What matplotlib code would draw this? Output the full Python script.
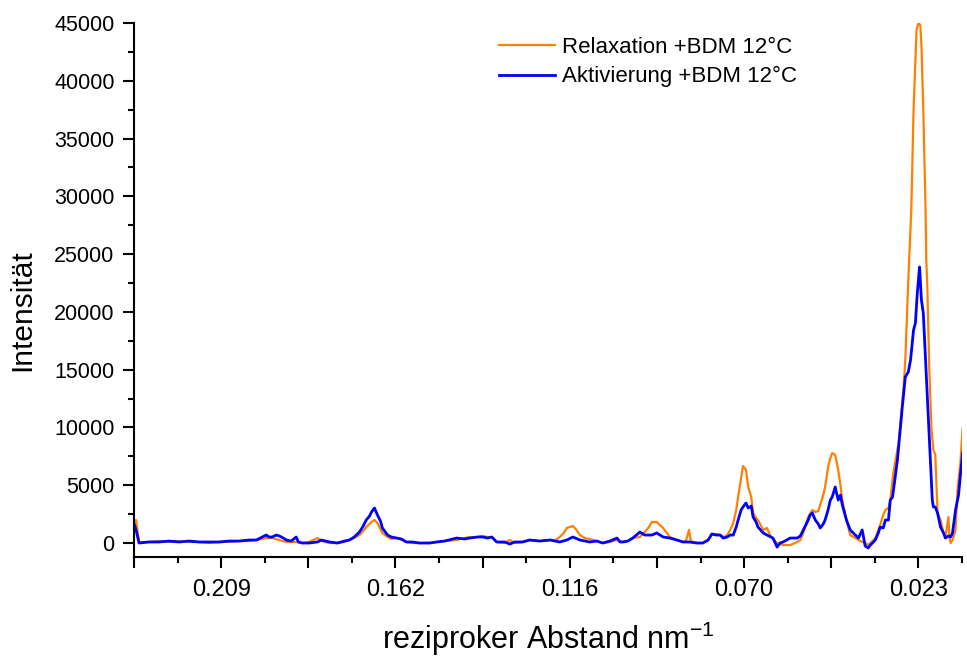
import matplotlib
matplotlib.use("Agg")
import matplotlib.pyplot as plt

plt.rcParams['font.family'] = ['Liberation Sans', 'DejaVu Sans']
plt.rcParams['mathtext.fontset'] = 'custom'
plt.rcParams['mathtext.rm'] = 'Liberation Sans'
plt.rcParams['mathtext.default'] = 'regular'

# ---- data (reciprocal spacing in nm^-1, intensity) ----
x_relax = [0.2325, 0.2323, 0.2317, 0.2309, 0.2282, 0.2256, 0.2229, 0.2202, 0.2176, 0.2149,
           0.2122, 0.2095, 0.2069, 0.2042, 0.2015, 0.1996, 0.1980, 0.1970, 0.1954, 0.1935,
           0.1916, 0.1890, 0.1874, 0.1855, 0.1833, 0.1823, 0.1801, 0.1780, 0.1761, 0.1748,
           0.1735, 0.1721, 0.1711, 0.1703, 0.1689, 0.1681, 0.1673, 0.1660, 0.1646, 0.1636,
           0.1622, 0.1609, 0.1596, 0.1580, 0.1561, 0.1534, 0.1515, 0.1494, 0.1462, 0.1441,
           0.1427, 0.1406, 0.1393, 0.1379, 0.1368, 0.1355, 0.1334, 0.1320, 0.1307, 0.1286,
           0.1267, 0.1240, 0.1213, 0.1197, 0.1187, 0.1176, 0.1168, 0.1152, 0.1144, 0.1133,
           0.1120, 0.1107, 0.1088, 0.1072, 0.1053, 0.1034, 0.1018, 0.1005, 0.0992, 0.0973,
           0.0960, 0.0949, 0.0941, 0.0928, 0.0920, 0.0911, 0.0901, 0.0893, 0.0874, 0.0858,
           0.0850, 0.0842, 0.0837, 0.0821, 0.0805, 0.0791, 0.0781, 0.0770, 0.0759, 0.0748,
           0.0740, 0.0732, 0.0724, 0.0716, 0.0711, 0.0703, 0.0698, 0.0690, 0.0684, 0.0676,
           0.0671, 0.0663, 0.0658, 0.0644, 0.0634, 0.0626, 0.0618, 0.0607, 0.0591, 0.0572,
           0.0553, 0.0545, 0.0537, 0.0524, 0.0513, 0.0505, 0.0497, 0.0492, 0.0484, 0.0479,
           0.0471, 0.0465, 0.0460, 0.0452, 0.0444, 0.0438, 0.0433, 0.0422, 0.0412, 0.0398,
           0.0385, 0.0372, 0.0364, 0.0358, 0.0345, 0.0332, 0.0324, 0.0318, 0.0310, 0.0305,
           0.0297, 0.0283, 0.0270, 0.0265, 0.0259, 0.0257, 0.0249, 0.0243, 0.0235, 0.0230,
           0.0225, 0.0222, 0.0217, 0.0211, 0.0209, 0.0206, 0.0201, 0.0195, 0.0190, 0.0185,
           0.0182, 0.0179, 0.0171, 0.0163, 0.0158, 0.0150, 0.0147, 0.0144, 0.0139, 0.0131,
           0.0126, 0.0118, 0.0112]
y_relax = [1990, 1820, 1990, 90, 90, 170, 90, 170, 90, 90,
           0, 90, 90, 170, 170, 260, 350, 430, 430, 260,
           90, 90, 0, 90, 430, 170, 0, 0, 90, 260,
           430, 690, 1040, 1380, 1820, 1990, 1730, 870, 520, 350,
           430, 260, 90, 0, 0, 0, 90, 170, 260, 430,
           520, 520, 610, 520, 520, 90, 0, 260, 0, 90,
           260, 170, 260, 260, 520, 870, 1300, 1470, 1210, 690,
           430, 350, 170, 0, 90, 260, 90, 170, 430, 520,
           950, 1380, 1820, 1820, 1560, 1300, 870, 520, 260, 90,
           170, 1130, 170, 0, 0, 260, 780, 780, 690, 520,
           690, 1130, 1730, 2860, 3980, 5630, 6660, 6320, 4850, 3980,
           2600, 2160, 1990, 1130, 1300, 690, 350, 0, -170, -170,
           90, 260, 870, 2250, 2860, 2680, 2770, 3290, 4150, 4850,
           6580, 7360, 7790, 7620, 6320, 5020, 3720, 1990, 690, 430,
           170, 0, -170, 0, 430, 1560, 2420, 2860, 3030, 3720,
           6060, 8650, 13240, 15840, 21030, 22760, 28820, 37470, 44400, 45000,
           44830, 43100, 37470, 28820, 24490, 21890, 14970, 9780, 8050, 7620,
           5000, 2600, 1990, 870, 520, 2250, 430, 0, 260, 1130,
           4500, 7000, 9950]

x_akt = [0.2325, 0.2323, 0.2317, 0.2309, 0.2282, 0.2256, 0.2229, 0.2202, 0.2176, 0.2149,
         0.2122, 0.2095, 0.2069, 0.2042, 0.2015, 0.1996, 0.1980, 0.1970, 0.1962, 0.1954,
         0.1943, 0.1935, 0.1924, 0.1916, 0.1903, 0.1890, 0.1884, 0.1874, 0.1855, 0.1833,
         0.1823, 0.1801, 0.1780, 0.1761, 0.1748, 0.1735, 0.1721, 0.1711, 0.1703, 0.1694,
         0.1689, 0.1681, 0.1673, 0.1665, 0.1660, 0.1646, 0.1636, 0.1622, 0.1609, 0.1596,
         0.1580, 0.1561, 0.1534, 0.1515, 0.1494, 0.1462, 0.1441, 0.1427, 0.1406, 0.1393,
         0.1379, 0.1368, 0.1355, 0.1334, 0.1320, 0.1307, 0.1286, 0.1267, 0.1240, 0.1213,
         0.1187, 0.1168, 0.1152, 0.1133, 0.1107, 0.1088, 0.1072, 0.1053, 0.1034, 0.1026,
         0.1018, 0.1005, 0.0992, 0.0973, 0.0960, 0.0941, 0.0928, 0.0911, 0.0893, 0.0874,
         0.0858, 0.0842, 0.0821, 0.0805, 0.0791, 0.0781, 0.0770, 0.0759, 0.0751, 0.0740,
         0.0732, 0.0724, 0.0716, 0.0711, 0.0703, 0.0698, 0.0690, 0.0684, 0.0676, 0.0671,
         0.0663, 0.0658, 0.0644, 0.0634, 0.0618, 0.0607, 0.0599, 0.0591, 0.0572, 0.0553,
         0.0545, 0.0537, 0.0524, 0.0519, 0.0513, 0.0505, 0.0497, 0.0492, 0.0484, 0.0479,
         0.0471, 0.0465, 0.0460, 0.0452, 0.0444, 0.0438, 0.0433, 0.0422, 0.0412, 0.0398,
         0.0390, 0.0380, 0.0372, 0.0364, 0.0358, 0.0345, 0.0337, 0.0332, 0.0324, 0.0318,
         0.0310, 0.0305, 0.0299, 0.0286, 0.0273, 0.0265, 0.0257, 0.0251, 0.0243, 0.0238,
         0.0233, 0.0227, 0.0222, 0.0217, 0.0211, 0.0206, 0.0198, 0.0193, 0.0190, 0.0185,
         0.0179, 0.0171, 0.0163, 0.0158, 0.0150, 0.0144, 0.0139, 0.0131, 0.0123, 0.0118,
         0.0112]
y_akt = [2160, 1730, 1130, 0, 90, 90, 170, 90, 170, 90,
         90, 90, 170, 170, 260, 260, 520, 690, 520, 520,
         690, 610, 430, 260, 170, 520, 90, 0, 0, 90,
         260, 90, 0, 170, 260, 520, 950, 1470, 1990, 2340,
         2680, 3030, 2420, 1900, 1300, 690, 520, 430, 350, 90,
         90, 0, 0, 90, 170, 430, 350, 430, 520, 520,
         430, 520, 90, 90, -90, 90, 90, 260, 170, 260,
         90, 260, 520, 260, 90, 170, 0, 170, 430, 90,
         90, 170, 430, 950, 690, 690, 870, 520, 430, 260,
         90, 90, 0, 0, 260, 780, 690, 690, 430, 520,
         690, 690, 1380, 1990, 2860, 3120, 3460, 3030, 3200, 2250,
         1820, 1380, 870, 690, 430, -350, 0, 90, 430, 430,
         610, 1130, 1990, 2420, 2600, 1990, 1640, 1300, 1640, 1990,
         2860, 3720, 3980, 4850, 3720, 4150, 3290, 1990, 1130, 690,
         430, 1130, -260, -430, -170, 260, 870, 1380, 1300, 1990,
         1990, 3720, 3980, 7180, 11770, 14370, 14800, 15840, 18430, 19040,
         21640, 23890, 21030, 19900, 15840, 12630, 6920, 3720, 3120, 3120,
         2600, 1380, 870, 430, 610, 520, 870, 2860, 4150, 5880,
         7790]

series_labels = ['Relaxation +BDM 12°C', 'Aktivierung +BDM 12°C']
series_colors = ['#FF8000', '#0000FF']

x_major_ticks = [0.23225, 0.209, 0.18575, 0.1625, 0.13925, 0.116, 0.09275, 0.0695, 0.04625, 0.023]
x_tick_labels = ['', '0.209', '', '0.162', '', '0.116', '', '0.070', '', '0.023']
x_minor_ticks = [0.220625, 0.197375, 0.174125, 0.150875, 0.127625, 0.104375, 0.081125, 0.057875, 0.034625, 0.011375]
y_major_ticks = [0, 5000, 10000, 15000, 20000, 25000, 30000, 35000, 40000, 45000]
y_minor_ticks = [2500, 7500, 12500, 17500, 22500, 27500, 32500, 37500, 42500]
x_limits = (0.23225, 0.011375)
y_limits = (-1210, 45000)

# ---- figure ----
fig = plt.figure(figsize=(9.67, 6.58), dpi=100)
ax = fig.add_axes([134/967, 1-557/658, (962-134)/967, (557-23)/658])

ax.plot(x_relax, y_relax, color=series_colors[0], lw=1.6, label=series_labels[0])
ax.plot(x_akt, y_akt, color=series_colors[1], lw=2.0, label=series_labels[1])

ax.set_xlim(*x_limits)
ax.set_ylim(*y_limits)
ax.set_xticks(x_major_ticks)
ax.set_xticklabels(x_tick_labels)
ax.set_xticks(x_minor_ticks, minor=True)
ax.set_yticks(y_major_ticks)
ax.set_yticks(y_minor_ticks, minor=True)

for s in ['top', 'right']:
    ax.spines[s].set_visible(False)
for s in ['left', 'bottom']:
    ax.spines[s].set_linewidth(1.5)
ax.tick_params(which='major', direction='out', length=8, width=1.5, labelsize=15.5, pad=6)
ax.tick_params(which='minor', direction='out', length=4.5, width=1.5)
ax.tick_params(axis='x', which='major', labelsize=17, pad=8)

ax.set_xlabel('reziproker Abstand nm$^{-1}$', fontsize=22)
ax.set_ylabel('Intensität', fontsize=21.5)
ax.xaxis.set_label_coords(0.5, (557 - 639) / 534)
ax.xaxis.label.set_va('center')
ax.yaxis.set_label_coords((22 - 134) / 828, (557 - 310) / 534)
ax.yaxis.label.set_va('center')

leg = ax.legend(loc='upper left', bbox_to_anchor=(0.4305, 0.99), frameon=False,
                fontsize=16, handlelength=2.5, handletextpad=0.3, labelspacing=0.36,
                borderaxespad=0.0)

fig.savefig('out.png', dpi=100)
